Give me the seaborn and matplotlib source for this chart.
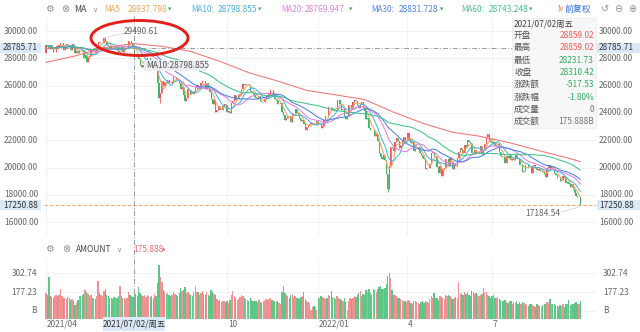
import numpy as np
import pandas as pd
import matplotlib
matplotlib.use("Agg")
import matplotlib.pyplot as plt
import matplotlib.transforms as mtransforms
from matplotlib.patches import Ellipse, Rectangle
from matplotlib.lines import Line2D
import seaborn as sns

# ---------------- data (Hang Seng Index, daily, 2021/04/01 - 2022/09/28) ----------------
prev_close = 28378.0
apr21 = [28939, 28938, 28675, 29009, 28698, 28453, 28497, 28900, 28793, 28969, 29106, 29135, 28621, 28755, 29078, 28952, 28941, 28574, 29071, 28725]
may21 = [28357, 28557, 28418, 28637, 28610, 28595, 28014, 28231, 27718, 28027, 28173, 28593, 28450, 28458, 28412, 28910, 29166, 29113, 29124, 29151]
jun21 = [29468, 29297, 28966, 28918, 28787, 28781, 28742, 28738, 28842, 28638, 28436, 28558, 28801, 28489, 28817, 28817, 28882, 29288, 29268, 29113, 28827.95]
jul21 = [28310.42, 28143, 28072, 27960, 27528, 27344, 27515, 27787, 27787, 27996, 28004, 27490, 27259, 27224, 27723, 27321, 26192, 25086, 25473, 26316, 25961]
aug21 = [26235, 26194, 26426, 26204, 26179, 26283, 26605, 26660, 26517, 26391, 26181, 25745, 25867, 25316, 24849, 25109, 25727, 25693, 25415, 25408, 25539, 25878]
sep21 = [26028, 25761, 25901, 26163, 26353, 26320, 25716, 26205, 25813, 25503, 25033, 24667, 24920, 24099, 24221, 24510, 24192, 24208, 24500, 24663, 24576]
oct21 = [24036, 24104, 23966, 24702, 24838, 25325, 24962, 25010, 25330, 25409, 25787, 26136, 26018, 26126, 26132, 26038, 25628, 25555, 25377]
nov21 = [25154, 25100, 25024, 25225, 24870, 24763, 24813, 24996, 25247, 25327, 25390, 25713, 25650, 25319, 25049, 24952, 24651, 24685, 24740, 24080, 23852, 23475]
dec21 = [23658, 23788, 23767, 23349, 23983, 23996, 24254, 23995, 23954, 23635, 23420, 23475, 23193, 22744, 22971, 23102, 23193, 23224, 23280, 23086, 23112, 23398]
jan22 = [23275, 23289, 22907, 23072, 23493, 23746, 23739, 24402, 24429, 24383, 24219, 24113, 24127, 24952, 24966, 24656, 24244, 24289, 23807, 23550, 23802]
feb22 = [24573, 24579, 24329, 24830, 24925, 24906, 24557, 24356, 24719, 24793, 24328, 24171, 23521, 23660, 22902, 22767, 22713]
mar22 = [22761, 22344, 22467, 21906, 21058, 20766, 20628, 20890, 20554, 19532, 18415, 20088, 21501, 21412, 21222, 21889, 22154, 21946, 21405, 21684, 21928, 22232, 21997]
apr22 = [22039, 22502, 22080, 21808, 21872, 21208, 21319, 21374, 21518, 21027, 20944, 20682, 20638, 19869, 19934, 19946, 20276, 21089]
may22 = [21101, 20870, 20794, 20002, 19633, 20103, 19380, 19899, 19950, 20602, 20644, 20120, 20717, 20471, 19924, 20171, 20116, 20698, 21124, 21415]
jun22 = [21294, 21082, 21653, 21532, 22014, 21869, 21806, 21068, 21012, 21308, 21075, 21080, 21164, 21559, 21008, 21273, 21719, 22230, 22419, 21997, 21860]
jul22 = [21830, 21853, 21587, 21644, 21726, 21125, 20845, 20797, 20751, 20297, 20846, 20661, 20891, 20575, 20610, 20562, 20906, 20671, 20622, 20157]
aug22 = [20165, 19690, 19768, 20174, 20202, 20046, 20003, 19610, 20082, 20176, 20040, 19831, 19922, 19763, 19774, 19657, 19504, 19268, 19969, 20170, 19950, 20082, 19954]
sep22 = [19597, 19452, 19225, 19203, 19044, 19075, 19362, 19327, 18848, 18930, 18762, 18566, 18781, 18445, 18148, 17933, 17855, 17861, 17250.88]

# turnover (AMOUNT, billions)
v_apr21 = [170, 160, 275, 150, 145, 140, 150, 155, 150, 160, 195, 150, 140, 135, 130, 145, 140, 125, 130, 120]
v_may21 = [90, 105, 125, 150, 150, 160, 165, 190, 180, 165, 150, 160, 140, 135, 130, 150, 250, 170, 160, 150]
v_jun21 = [185, 195, 160, 150, 140, 135, 130, 145, 140, 135, 150, 215, 150, 140, 135, 130, 140, 175, 160, 150, 145]
v_jul21 = [175.888, 165, 150, 210, 170, 160, 150, 155, 145, 160, 150, 145, 150, 140, 165, 150, 240, 356, 280, 245, 190]
v_aug21 = [175, 165, 170, 160, 150, 160, 175, 165, 160, 150, 170, 205, 185, 190, 210, 170, 180, 165, 160, 150, 175, 220]
v_sep21 = [180, 175, 160, 170, 185, 165, 155, 175, 160, 150, 190, 175, 165, 160, 130, 120, 125, 110, 115, 120, 110]
v_oct21 = [115, 105, 125, 160, 185, 150, 140, 125, 130, 145, 160, 150, 140, 130, 125, 120, 135, 125, 115]
v_nov21 = [120, 115, 110, 125, 110, 105, 115, 120, 130, 125, 130, 140, 125, 120, 115, 110, 115, 105, 100, 175, 218, 170]
v_dec21 = [160, 150, 140, 155, 165, 145, 150, 140, 135, 130, 145, 150, 175, 130, 120, 110, 105, 60, 75, 85, 80, 55]
v_jan22 = [135, 140, 150, 145, 140, 130, 135, 160, 150, 185, 145, 135, 130, 150, 140, 130, 125, 120, 135, 110, 60]
v_feb22 = [120, 135, 130, 140, 150, 145, 160, 170, 185, 150, 165, 160, 190, 175, 200, 170, 160]
v_mar22 = [200, 190, 180, 195, 210, 215, 200, 195, 205, 230, 283, 303, 270, 190, 160, 155, 150, 140, 135, 130, 125, 120, 115]
v_apr22 = [110, 125, 115, 105, 100, 115, 120, 110, 105, 100, 110, 120, 105, 115, 110, 105, 130, 150]
v_may22 = [135, 170, 140, 135, 125, 150, 145, 140, 130, 155, 150, 160, 150, 140, 130, 135, 145, 140, 242, 165]
v_jun22 = [170, 160, 180, 165, 175, 160, 150, 185, 175, 165, 170, 155, 150, 160, 165, 205, 180, 175, 160, 150, 140]
v_jul22 = [150, 160, 140, 135, 145, 130, 125, 120, 115, 125, 110, 105, 120, 115, 100, 110, 105, 115, 100, 110]
v_aug22 = [100, 110, 105, 95, 90, 85, 95, 100, 90, 85, 80, 95, 90, 85, 80, 90, 95, 100, 110, 105, 130, 95, 100]
v_sep22 = [95, 90, 85, 80, 90, 85, 95, 80, 100, 95, 125, 90, 95, 100, 105, 110, 95, 100, 115]

# known intraday extremes (trading-day index -> (high, low))
extremes = {40: (29490.61, None), 61: (28859.02, 28231.73), 79: (None, 24748.0),
            236: (None, 18235.0), 369: (None, 17184.54)}
open_overrides = {61: 28859.02}

# long moving average (red line) at trading-day indices
ma120_idx = [0, 20, 40, 60, 80, 100, 120, 140, 160, 180, 200, 220, 240, 260, 280, 300, 320, 340, 360, 369]
ma120_val = [27700, 28170, 28780, 29080, 28880, 28500, 27780, 26950, 26330, 25650, 25320, 24980,
             24050, 23250, 22600, 22280, 21820, 21250, 20700, 20430]

month_tick_idx = [0, 125, 188, 249, 308]
month_tick_lab = ['2021/04', '10', '2022/01', '4', '7']
cross_idx = 61
cross_label = '2021/07/02/周五'
cross_price = 28785.71
last_price = 17250.88
price_ticks = [16000, 18000, 20000, 22000, 24000, 26000, 28000, 30000]
vol_ticks = [51.72, 177.23, 302.74]
vol_tick_lab = ['B', '177.23', '302.74']

legend_items = [("MA5", "28937.798", "#f3a45a", 104, 128, 170),
                ("MA10:", "28798.855", "#4aaee6", 191, 218, 260),
                ("MA20:", "28769.947", "#e27ee0", 281, 305, 351),
                ("MA30:", "28831.728", "#4a80e6", 371, 399, 442),
                ("MA60:", "28743.248", "#40c28e", 461, 489, 531)]

tip_rows = [("开盘", "28859.02", "#ee5b5b"), ("最高", "28859.02", "#ee5b5b"),
            ("最低", "28231.73", "#2fae5f"), ("收盘", "28310.42", "#2fae5f"),
            ("涨跌额", "-517.53", "#2fae5f"), ("涨跌幅", "-1.80%", "#2fae5f"),
            ("成交量", "0", "#777777"), ("成交额", "175.888B", "#777777")]

# ---------------- build series ----------------
closes = np.array(apr21 + may21 + jun21 + jul21 + aug21 + sep21 + oct21 + nov21 + dec21 +
                  jan22 + feb22 + mar22 + apr22 + may22 + jun22 + jul22 + aug22 + sep22, dtype=float)
vols = np.array(v_apr21 + v_may21 + v_jun21 + v_jul21 + v_aug21 + v_sep21 + v_oct21 + v_nov21 +
                v_dec21 + v_jan22 + v_feb22 + v_mar22 + v_apr22 + v_may22 + v_jun22 + v_jul22 +
                v_aug22 + v_sep22, dtype=float)
n = len(closes)
idx = np.arange(n)
opens = np.concatenate([[prev_close], closes[:-1]])
for k, v in open_overrides.items():
    opens[k] = v
highs = np.maximum(opens, closes)
lows = np.minimum(opens, closes)
for k, (h, l) in extremes.items():
    if h is not None:
        highs[k] = h
    if l is not None:
        lows[k] = l
up = closes >= opens

s = pd.Series(closes)
ma_df = pd.DataFrame({'idx': idx,
                      'MA5': s.rolling(5, min_periods=1).mean(),
                      'MA10': s.rolling(10, min_periods=1).mean(),
                      'MA20': s.rolling(20, min_periods=1).mean(),
                      'MA30': s.rolling(30, min_periods=1).mean(),
                      'MA60': s.rolling(60, min_periods=1).mean()})
ma_long = ma_df.melt(id_vars='idx', var_name='ma', value_name='val')
ma_palette = {'MA5': '#f5a45a', 'MA10': '#45b4e6', 'MA20': '#e47fe2', 'MA30': '#4a80e8', 'MA60': '#3fc38c'}

# ---------------- figure ----------------
sns.set_theme(style="white")
FONT = ['Noto Sans CJK SC', 'DejaVu Sans']
plt.rcParams['font.family'] = FONT
plt.rcParams['axes.unicode_minus'] = False

W, H = 640, 332
fig = plt.figure(figsize=(6.4, 3.32), dpi=100)
fig.patch.set_facecolor('white')


def fx(px):
    return px / W


def fy(py):
    return 1 - py / H


UP_C, DN_C = '#ef5b5b', '#3db56a'
UPV_C, DNV_C = '#f08585', '#4cc07a'
XMIN, XMAX = -1.38, 379.8
TXT = '#666666'
FS = 6.0

ax = fig.add_axes([fx(44), fy(236), fx(596) - fx(44), fy(16) - fy(236)])
axv = fig.add_axes([fx(44), fy(319), fx(596) - fx(44), fy(258) - fy(319)])
for a in (ax, axv):
    a.set_facecolor('white')
    for sp in a.spines.values():
        sp.set_visible(False)
    a.set_xlim(XMIN, XMAX)
    a.set_xticks(month_tick_idx + [cross_idx])
    a.tick_params(left=False, bottom=False, labelleft=False, labelbottom=False)
    a.grid(True, color='#f0f0f0', lw=0.6)
    a.set_axisbelow(True)

ax.set_ylim(14982, 31099)
ax.set_yticks(price_ticks)
axv.set_ylim(-1.3, 402.6)
axv.set_yticks(vol_ticks)

# candles
cols = np.where(up, UP_C, DN_C)
ax.vlines(idx, lows, highs, colors=cols, lw=0.6, zorder=2)
ax.bar(idx, np.maximum(np.abs(closes - opens), 14), bottom=np.minimum(opens, closes),
       width=0.78, color=cols, lw=0, zorder=2)

# moving averages
sns.lineplot(data=ma_long, x='idx', y='val', hue='ma', palette=ma_palette, lw=0.75,
             legend=False, ax=ax, estimator=None, sort=False, zorder=3)
sns.lineplot(x=ma120_idx, y=ma120_val, color='#f07474', lw=0.75, ax=ax, zorder=3)
ax.set_xlabel('')
ax.set_ylabel('')

# volume
vcols = np.where(up, UPV_C, DNV_C)
axv.bar(idx, vols, width=0.9, color=vcols, alpha=0.9, lw=0, zorder=2)
axv.set_xlabel('')
axv.set_ylabel('')

# reference lines
ax.axhline(cross_price, color='#9a9a9a', lw=0.7, ls=(0, (5, 2, 1, 2)), zorder=4)
ax.axhline(last_price, color='#f2a868', lw=0.8, ls=(0, (3, 2)), zorder=4)
tr_vx = mtransforms.blended_transform_factory(ax.transData, fig.transFigure)
fig.add_artist(Line2D([cross_idx, cross_idx], [fy(16), fy(318)], transform=tr_vx,
                      color='#9a9a9a', lw=0.7, ls=(0, (5, 2, 1, 2)), zorder=4))

# y labels (both sides)
tr_p = mtransforms.blended_transform_factory(fig.transFigure, ax.transData)
for v in price_ticks:
    ax.text(fx(38), v, f"{v:.2f}", transform=tr_p, ha='right', va='center', fontsize=FS, color=TXT)
    ax.text(fx(599), v, f"{v:.2f}", transform=tr_p, ha='left', va='center', fontsize=FS, color=TXT)
tr_v = mtransforms.blended_transform_factory(fig.transFigure, axv.transData)
for v, lab in zip(vol_ticks, vol_tick_lab):
    axv.text(fx(37), v, lab, transform=tr_v, ha='right', va='center', fontsize=FS, color=TXT)
    axv.text(fx(603), v, lab, transform=tr_v, ha='left', va='center', fontsize=FS, color=TXT)

# highlighted value boxes (crosshair price and last price)
HL = '#dbe8f6'
for price in (cross_price, last_price):
    py = H - ax.transData.transform((0, price))[1]
    for (x0, x1, xt, ha) in ((0, 41, 38, 'right'), (597, 640, 599, 'left')):
        fig.add_artist(Rectangle((fx(x0), fy(py + 5)), fx(x1) - fx(x0), 10 / H,
                                 transform=fig.transFigure, fc=HL, ec='none', zorder=5))
        fig.text(fx(xt), fy(py), f"{price:.2f}", ha=ha, va='center', fontsize=FS, color='#333333', zorder=6)

# x labels
tr_x = mtransforms.blended_transform_factory(axv.transData, fig.transFigure)
for i, lab in zip(month_tick_idx, month_tick_lab):
    axv.text(i + 0.6, fy(324.5), lab, transform=tr_x, ha='left', va='center', fontsize=FS, color=TXT)
fig.add_artist(Rectangle((fx(103), fy(331)), fx(165) - fx(103), 14 / H, transform=fig.transFigure,
                         fc=HL, ec='none', zorder=5))
cx_px = axv.transData.transform((cross_idx, 0))[0]
fig.text(cx_px / W, fy(324.5), cross_label, ha='center', va='center',
         fontsize=FS, color='#333333', zorder=6)

# max / min labels
fig.text(fx(141.5), fy(31), f"{extremes[40][0]:.2f}", ha='center', va='center', fontsize=FS, color=TXT)
fig.add_artist(Line2D([fx(104), fx(125)], [fy(38), fy(33)], color='#d0d0d0', lw=0.5))
fig.text(fx(542.5), fy(213.5), f"{extremes[369][1]:.2f}", ha='center', va='center', fontsize=FS, color=TXT)
fig.add_artist(Line2D([fx(561), fx(579)], [fy(212), fy(207)], color='#d0d0d0', lw=0.5))

# MA10 hover label
fig.add_artist(Rectangle((fx(144), fy(70.5)), fx(207) - fx(144), 11 / H, transform=fig.transFigure,
                         fc='#eceef1', ec='none', alpha=0.95, zorder=5))
fig.text(fx(146), fy(65), "MA10:28798.855", ha='left', va='center', fontsize=FS, color='#555555', zorder=6)

# red ellipse annotation
fig.add_artist(Ellipse((fx(139.5), fy(38)), 97 / W, 35 / H, transform=fig.transFigure,
                       fill=False, ec='#e3211c', lw=2.1, zorder=7))

# top indicator bar
ICON = '#8a8f99'
fig.text(fx(49), fy(9), "⚙", ha='center', va='center', fontsize=7, color=ICON, family='DejaVu Sans')
fig.text(fx(65), fy(9), "⊗", ha='center', va='center', fontsize=7, color=ICON, family='DejaVu Sans')
fig.text(fx(74), fy(9), "MA", ha='left', va='center', fontsize=FS + 0.3, color='#444444')
fig.text(fx(95), fy(9.5), "∨", ha='center', va='center', fontsize=5, color=ICON, family='DejaVu Sans')
for lab, val, c, xl, xv, xa in legend_items:
    fig.text(fx(xl), fy(9), lab, ha='left', va='center', fontsize=FS - 0.2, color=c)
    fig.text(fx(xv), fy(9), val, ha='left', va='center', fontsize=FS, color=c)
    fig.text(fx(xa), fy(9.5), "▼", ha='center', va='center', fontsize=3.2, color='#2fae5f', family='DejaVu Sans')
fig.text(fx(557), fy(9), "M", ha='left', va='center', fontsize=FS, color='#f07474')
fig.add_artist(Rectangle((fx(563), fy(16)), fx(594) - fx(563), 14 / H, transform=fig.transFigure,
                         fc='white', ec='none', zorder=5))
fig.text(fx(565), fy(9), "前复权", ha='left', va='center', fontsize=FS + 0.4, color='#2f6fdc', zorder=6)
fig.text(fx(605), fy(9), "↺", ha='center', va='center', fontsize=7, color=ICON, family='DejaVu Sans')
fig.text(fx(618), fy(9), "⊖", ha='center', va='center', fontsize=7, color=ICON, family='DejaVu Sans')
fig.text(fx(632), fy(9), "⊕", ha='center', va='center', fontsize=7, color=ICON, family='DejaVu Sans')

# volume header
fig.text(fx(49), fy(249.5), "⚙", ha='center', va='center', fontsize=7, color=ICON, family='DejaVu Sans')
fig.text(fx(66), fy(249.5), "⊗", ha='center', va='center', fontsize=7, color=ICON, family='DejaVu Sans')
fig.text(fx(76), fy(249.5), "AMOUNT", ha='left', va='center', fontsize=FS, color='#444444')
fig.text(fx(119), fy(250), "∨", ha='center', va='center', fontsize=5, color=ICON, family='DejaVu Sans')
fig.text(fx(133), fy(249.5), f"{vols[cross_idx]:.3f}", ha='left', va='center', fontsize=FS, color='#ef6b6b')
fig.text(fx(164), fy(249.5), "▲", ha='center', va='center', fontsize=3.2, color='#ef5b5b', family='DejaVu Sans')

# tooltip
fig.add_artist(Rectangle((fx(512), fy(127.5)), fx(596) - fx(512), 109.5 / H, transform=fig.transFigure,
                         fc='#f7f7f7', ec='#e8e8e8', lw=0.5, alpha=0.95, zorder=5))
fig.text(fx(514), fy(24.3), "2021/07/02周五", ha='left', va='center', fontsize=FS, color='#444444', zorder=6)
for k, (lab, val, c) in enumerate(tip_rows):
    yy = 35.5 + k * 12.3
    fig.text(fx(514), fy(yy), lab, ha='left', va='center', fontsize=FS + 0.2, color='#555555', zorder=6)
    fig.text(fx(594), fy(yy), val, ha='right', va='center', fontsize=FS, color=c, zorder=6)

fig.savefig("out.png", dpi=100, facecolor='white')
